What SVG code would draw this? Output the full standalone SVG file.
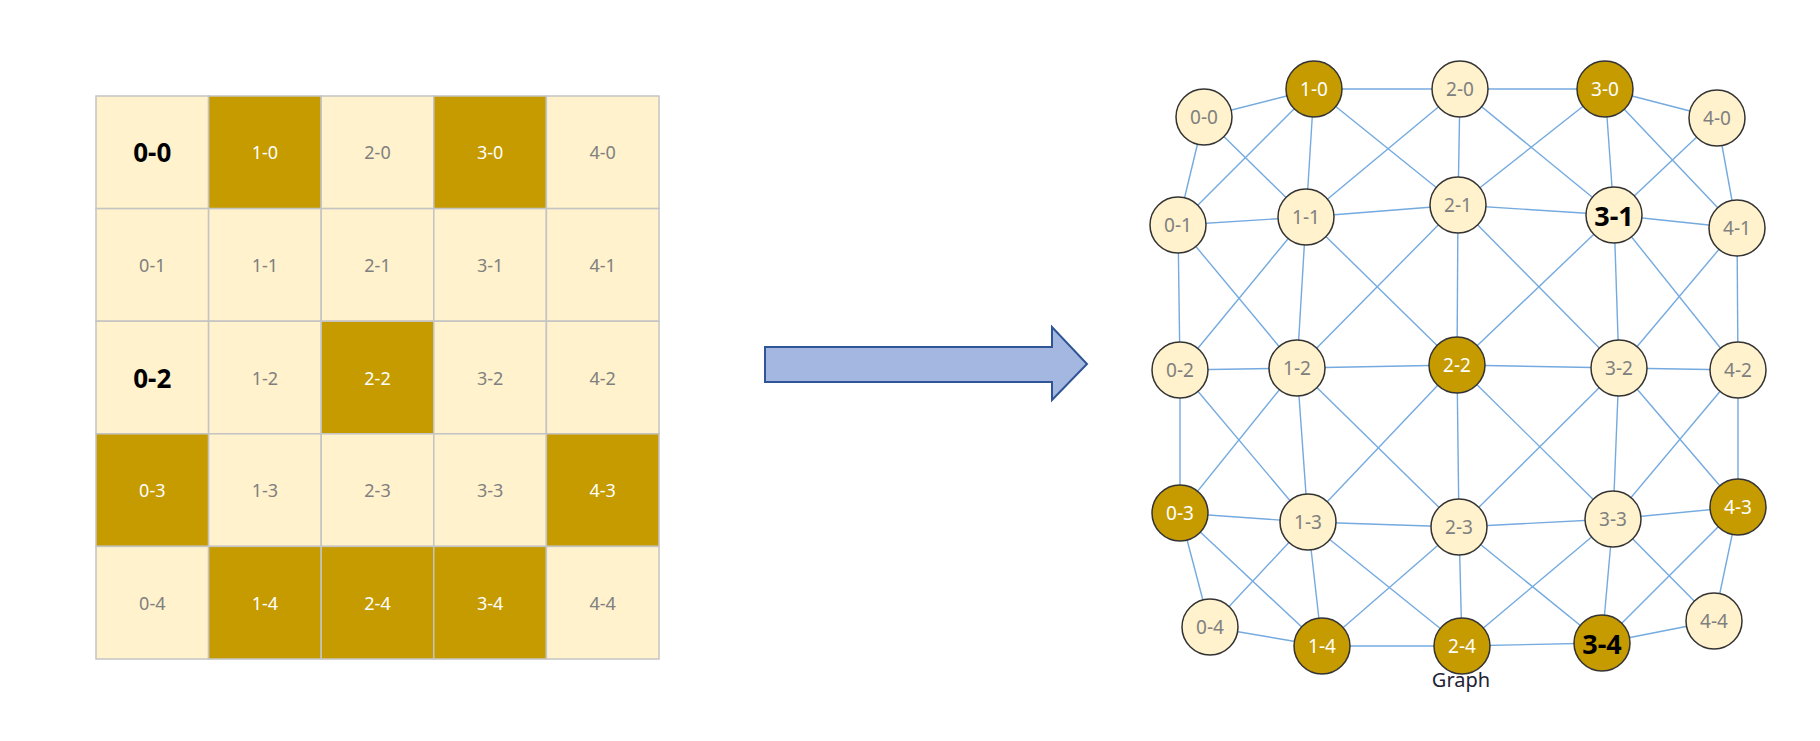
<svg xmlns="http://www.w3.org/2000/svg" width="1820" height="741" viewBox="0 0 1820 741">
  <style>
    text { font-family: "Noto Sans", "Open Sans", "Liberation Sans", sans-serif; text-anchor: middle; dominant-baseline: central; }
    .cell-l { fill: #fff2cc; stroke: #c4c4c4; stroke-width: 1.5; }
    .cell-d { fill: #c69b00; stroke: #c4c4c4; stroke-width: 1.5; }
    .t-grey { fill: #808080; font-size: 18px; }
    .t-white { fill: #ffffff; font-size: 18px; }
    .t-bold { fill: #000000; font-size: 26px; font-weight: bold; }
    .node-l { fill: #fff2cc; stroke: #333333; stroke-width: 1.5; }
    .node-d { fill: #c69b00; stroke: #333333; stroke-width: 1.5; }
    .n-grey { fill: #808080; font-size: 19px; }
    .n-white { fill: #ffffff; font-size: 19px; }
    .n-bold { fill: #000000; font-size: 27px; font-weight: bold; }
    .edges line { stroke: #74aadf; stroke-width: 1.4; }
    .arrow { fill: #a4b7e0; stroke: #2f5597; stroke-width: 2; }
    .caption { fill: #222233; font-size: 20px; dominant-baseline: alphabetic; }
  </style>

  <!-- 5x5 grid -->
  <g id="grid">
    <g id="cell-0-0"><rect class="cell-l" x="96" y="96" width="112.6" height="112.6"/><text class="t-bold" x="152.3" y="152.3">0-0</text></g>
    <g id="cell-1-0"><rect class="cell-d" x="208.6" y="96" width="112.6" height="112.6"/><text class="t-white" x="264.9" y="152.3">1-0</text></g>
    <g id="cell-2-0"><rect class="cell-l" x="321.2" y="96" width="112.6" height="112.6"/><text class="t-grey" x="377.5" y="152.3">2-0</text></g>
    <g id="cell-3-0"><rect class="cell-d" x="433.8" y="96" width="112.6" height="112.6"/><text class="t-white" x="490.1" y="152.3">3-0</text></g>
    <g id="cell-4-0"><rect class="cell-l" x="546.4" y="96" width="112.6" height="112.6"/><text class="t-grey" x="602.7" y="152.3">4-0</text></g>

    <g id="cell-0-1"><rect class="cell-l" x="96" y="208.6" width="112.6" height="112.6"/><text class="t-grey" x="152.3" y="264.9">0-1</text></g>
    <g id="cell-1-1"><rect class="cell-l" x="208.6" y="208.6" width="112.6" height="112.6"/><text class="t-grey" x="264.9" y="264.9">1-1</text></g>
    <g id="cell-2-1"><rect class="cell-l" x="321.2" y="208.6" width="112.6" height="112.6"/><text class="t-grey" x="377.5" y="264.9">2-1</text></g>
    <g id="cell-3-1"><rect class="cell-l" x="433.8" y="208.6" width="112.6" height="112.6"/><text class="t-grey" x="490.1" y="264.9">3-1</text></g>
    <g id="cell-4-1"><rect class="cell-l" x="546.4" y="208.6" width="112.6" height="112.6"/><text class="t-grey" x="602.7" y="264.9">4-1</text></g>

    <g id="cell-0-2"><rect class="cell-l" x="96" y="321.2" width="112.6" height="112.6"/><text class="t-bold" x="152.3" y="377.5">0-2</text></g>
    <g id="cell-1-2"><rect class="cell-l" x="208.6" y="321.2" width="112.6" height="112.6"/><text class="t-grey" x="264.9" y="377.5">1-2</text></g>
    <g id="cell-2-2"><rect class="cell-d" x="321.2" y="321.2" width="112.6" height="112.6"/><text class="t-white" x="377.5" y="377.5">2-2</text></g>
    <g id="cell-3-2"><rect class="cell-l" x="433.8" y="321.2" width="112.6" height="112.6"/><text class="t-grey" x="490.1" y="377.5">3-2</text></g>
    <g id="cell-4-2"><rect class="cell-l" x="546.4" y="321.2" width="112.6" height="112.6"/><text class="t-grey" x="602.7" y="377.5">4-2</text></g>

    <g id="cell-0-3"><rect class="cell-d" x="96" y="433.8" width="112.6" height="112.6"/><text class="t-white" x="152.3" y="490.1">0-3</text></g>
    <g id="cell-1-3"><rect class="cell-l" x="208.6" y="433.8" width="112.6" height="112.6"/><text class="t-grey" x="264.9" y="490.1">1-3</text></g>
    <g id="cell-2-3"><rect class="cell-l" x="321.2" y="433.8" width="112.6" height="112.6"/><text class="t-grey" x="377.5" y="490.1">2-3</text></g>
    <g id="cell-3-3"><rect class="cell-l" x="433.8" y="433.8" width="112.6" height="112.6"/><text class="t-grey" x="490.1" y="490.1">3-3</text></g>
    <g id="cell-4-3"><rect class="cell-d" x="546.4" y="433.8" width="112.6" height="112.6"/><text class="t-white" x="602.7" y="490.1">4-3</text></g>

    <g id="cell-0-4"><rect class="cell-l" x="96" y="546.4" width="112.6" height="112.6"/><text class="t-grey" x="152.3" y="602.7">0-4</text></g>
    <g id="cell-1-4"><rect class="cell-d" x="208.6" y="546.4" width="112.6" height="112.6"/><text class="t-white" x="264.9" y="602.7">1-4</text></g>
    <g id="cell-2-4"><rect class="cell-d" x="321.2" y="546.4" width="112.6" height="112.6"/><text class="t-white" x="377.5" y="602.7">2-4</text></g>
    <g id="cell-3-4"><rect class="cell-d" x="433.8" y="546.4" width="112.6" height="112.6"/><text class="t-white" x="490.1" y="602.7">3-4</text></g>
    <g id="cell-4-4"><rect class="cell-l" x="546.4" y="546.4" width="112.6" height="112.6"/><text class="t-grey" x="602.7" y="602.7">4-4</text></g>
  </g>

  <!-- block arrow -->
  <g id="arrow">
    <path class="arrow" d="M765,347 H1052 V327 L1087,364 L1052,400 V382 H765 Z"/>
  </g>

  <!-- graph connectors (8-neighbour adjacency) -->
  <g id="connectors" class="edges">
    <!-- horizontal -->
    <line x1="1204" y1="117" x2="1314" y2="89"/>
    <line x1="1314" y1="89" x2="1460" y2="89"/>
    <line x1="1460" y1="89" x2="1605" y2="89"/>
    <line x1="1605" y1="89" x2="1717" y2="118"/>
    <line x1="1178" y1="225" x2="1306" y2="217"/>
    <line x1="1306" y1="217" x2="1458" y2="205"/>
    <line x1="1458" y1="205" x2="1614" y2="215"/>
    <line x1="1614" y1="215" x2="1737" y2="228"/>
    <line x1="1180" y1="370" x2="1297" y2="368"/>
    <line x1="1297" y1="368" x2="1457" y2="365"/>
    <line x1="1457" y1="365" x2="1619" y2="368"/>
    <line x1="1619" y1="368" x2="1738" y2="370"/>
    <line x1="1180" y1="513" x2="1308" y2="522"/>
    <line x1="1308" y1="522" x2="1459" y2="527"/>
    <line x1="1459" y1="527" x2="1613" y2="519"/>
    <line x1="1613" y1="519" x2="1738" y2="507"/>
    <line x1="1210" y1="627" x2="1322" y2="646"/>
    <line x1="1322" y1="646" x2="1462" y2="646"/>
    <line x1="1462" y1="646" x2="1602" y2="643"/>
    <line x1="1602" y1="643" x2="1714" y2="621"/>
    <!-- vertical -->
    <line x1="1204" y1="117" x2="1178" y2="225"/>
    <line x1="1178" y1="225" x2="1180" y2="370"/>
    <line x1="1180" y1="370" x2="1180" y2="513"/>
    <line x1="1180" y1="513" x2="1210" y2="627"/>
    <line x1="1314" y1="89" x2="1306" y2="217"/>
    <line x1="1306" y1="217" x2="1297" y2="368"/>
    <line x1="1297" y1="368" x2="1308" y2="522"/>
    <line x1="1308" y1="522" x2="1322" y2="646"/>
    <line x1="1460" y1="89" x2="1458" y2="205"/>
    <line x1="1458" y1="205" x2="1457" y2="365"/>
    <line x1="1457" y1="365" x2="1459" y2="527"/>
    <line x1="1459" y1="527" x2="1462" y2="646"/>
    <line x1="1605" y1="89" x2="1614" y2="215"/>
    <line x1="1614" y1="215" x2="1619" y2="368"/>
    <line x1="1619" y1="368" x2="1613" y2="519"/>
    <line x1="1613" y1="519" x2="1602" y2="643"/>
    <line x1="1717" y1="118" x2="1737" y2="228"/>
    <line x1="1737" y1="228" x2="1738" y2="370"/>
    <line x1="1738" y1="370" x2="1738" y2="507"/>
    <line x1="1738" y1="507" x2="1714" y2="621"/>
    <!-- diagonal down-right -->
    <line x1="1204" y1="117" x2="1306" y2="217"/>
    <line x1="1314" y1="89" x2="1458" y2="205"/>
    <line x1="1460" y1="89" x2="1614" y2="215"/>
    <line x1="1605" y1="89" x2="1737" y2="228"/>
    <line x1="1178" y1="225" x2="1297" y2="368"/>
    <line x1="1306" y1="217" x2="1457" y2="365"/>
    <line x1="1458" y1="205" x2="1619" y2="368"/>
    <line x1="1614" y1="215" x2="1738" y2="370"/>
    <line x1="1180" y1="370" x2="1308" y2="522"/>
    <line x1="1297" y1="368" x2="1459" y2="527"/>
    <line x1="1457" y1="365" x2="1613" y2="519"/>
    <line x1="1619" y1="368" x2="1738" y2="507"/>
    <line x1="1180" y1="513" x2="1322" y2="646"/>
    <line x1="1308" y1="522" x2="1462" y2="646"/>
    <line x1="1459" y1="527" x2="1602" y2="643"/>
    <line x1="1613" y1="519" x2="1714" y2="621"/>
    <!-- diagonal down-left -->
    <line x1="1314" y1="89" x2="1178" y2="225"/>
    <line x1="1460" y1="89" x2="1306" y2="217"/>
    <line x1="1605" y1="89" x2="1458" y2="205"/>
    <line x1="1717" y1="118" x2="1614" y2="215"/>
    <line x1="1306" y1="217" x2="1180" y2="370"/>
    <line x1="1458" y1="205" x2="1297" y2="368"/>
    <line x1="1614" y1="215" x2="1457" y2="365"/>
    <line x1="1737" y1="228" x2="1619" y2="368"/>
    <line x1="1297" y1="368" x2="1180" y2="513"/>
    <line x1="1457" y1="365" x2="1308" y2="522"/>
    <line x1="1619" y1="368" x2="1459" y2="527"/>
    <line x1="1738" y1="370" x2="1613" y2="519"/>
    <line x1="1308" y1="522" x2="1210" y2="627"/>
    <line x1="1459" y1="527" x2="1322" y2="646"/>
    <line x1="1613" y1="519" x2="1462" y2="646"/>
    <line x1="1738" y1="507" x2="1602" y2="643"/>
  </g>

  <!-- graph nodes -->
  <g id="node-0-0"><circle class="node-l" cx="1204" cy="117" r="28"/><text class="n-grey" x="1204" y="117">0-0</text></g>
  <g id="node-1-0"><circle class="node-d" cx="1314" cy="89" r="28"/><text class="n-white" x="1314" y="89">1-0</text></g>
  <g id="node-2-0"><circle class="node-l" cx="1460" cy="89" r="28"/><text class="n-grey" x="1460" y="89">2-0</text></g>
  <g id="node-3-0"><circle class="node-d" cx="1605" cy="89" r="28"/><text class="n-white" x="1605" y="89">3-0</text></g>
  <g id="node-4-0"><circle class="node-l" cx="1717" cy="118" r="28"/><text class="n-grey" x="1717" y="118">4-0</text></g>

  <g id="node-0-1"><circle class="node-l" cx="1178" cy="225" r="28"/><text class="n-grey" x="1178" y="225">0-1</text></g>
  <g id="node-1-1"><circle class="node-l" cx="1306" cy="217" r="28"/><text class="n-grey" x="1306" y="217">1-1</text></g>
  <g id="node-2-1"><circle class="node-l" cx="1458" cy="205" r="28"/><text class="n-grey" x="1458" y="205">2-1</text></g>
  <g id="node-3-1"><circle class="node-l" cx="1614" cy="215" r="28"/><text class="n-bold" x="1614" y="215">3-1</text></g>
  <g id="node-4-1"><circle class="node-l" cx="1737" cy="228" r="28"/><text class="n-grey" x="1737" y="228">4-1</text></g>

  <g id="node-0-2"><circle class="node-l" cx="1180" cy="370" r="28"/><text class="n-grey" x="1180" y="370">0-2</text></g>
  <g id="node-1-2"><circle class="node-l" cx="1297" cy="368" r="28"/><text class="n-grey" x="1297" y="368">1-2</text></g>
  <g id="node-2-2"><circle class="node-d" cx="1457" cy="365" r="28"/><text class="n-white" x="1457" y="365">2-2</text></g>
  <g id="node-3-2"><circle class="node-l" cx="1619" cy="368" r="28"/><text class="n-grey" x="1619" y="368">3-2</text></g>
  <g id="node-4-2"><circle class="node-l" cx="1738" cy="370" r="28"/><text class="n-grey" x="1738" y="370">4-2</text></g>

  <g id="node-0-3"><circle class="node-d" cx="1180" cy="513" r="28"/><text class="n-white" x="1180" y="513">0-3</text></g>
  <g id="node-1-3"><circle class="node-l" cx="1308" cy="522" r="28"/><text class="n-grey" x="1308" y="522">1-3</text></g>
  <g id="node-2-3"><circle class="node-l" cx="1459" cy="527" r="28"/><text class="n-grey" x="1459" y="527">2-3</text></g>
  <g id="node-3-3"><circle class="node-l" cx="1613" cy="519" r="28"/><text class="n-grey" x="1613" y="519">3-3</text></g>
  <g id="node-4-3"><circle class="node-d" cx="1738" cy="507" r="28"/><text class="n-white" x="1738" y="507">4-3</text></g>

  <g id="node-0-4"><circle class="node-l" cx="1210" cy="627" r="28"/><text class="n-grey" x="1210" y="627">0-4</text></g>
  <g id="node-1-4"><circle class="node-d" cx="1322" cy="646" r="28"/><text class="n-white" x="1322" y="646">1-4</text></g>
  <g id="node-2-4"><circle class="node-d" cx="1462" cy="646" r="28"/><text class="n-white" x="1462" y="646">2-4</text></g>
  <g id="node-3-4"><circle class="node-d" cx="1602" cy="643" r="28"/><text class="n-bold" x="1602" y="643">3-4</text></g>
  <g id="node-4-4"><circle class="node-l" cx="1714" cy="621" r="28"/><text class="n-grey" x="1714" y="621">4-4</text></g>

  <g id="caption"><text class="caption" x="1461" y="687">Graph</text></g>
</svg>
